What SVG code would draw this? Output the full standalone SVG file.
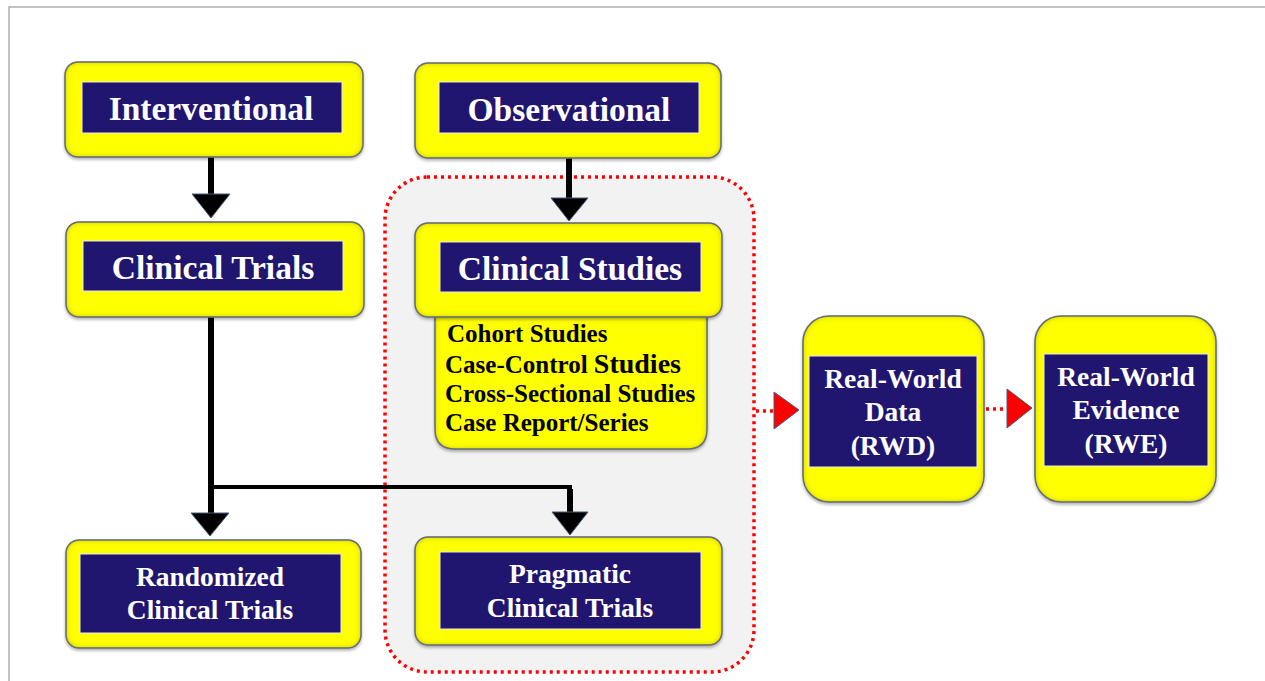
<svg xmlns="http://www.w3.org/2000/svg" width="1265" height="681" viewBox="0 0 1265 681">
<style>
.outer{fill:#ffff00;stroke:#5e6f8c;stroke-width:1.5}
.inner{fill:#21166f;stroke:#e8e8f0;stroke-width:1}
.hd{fill:#ffffff;text-anchor:middle}
.lst{fill:#000000}
.blk{stroke:#000;fill:none}
.tri{fill:#000;stroke:#4a5a78;stroke-width:1}
.rtri{fill:#ff0000;stroke:#4a5a78;stroke-width:1}
.rdot{stroke:#ff0000;stroke-width:3.5;stroke-dasharray:3 4;fill:none}
</style>
<defs>
<filter id="sh" x="-10%" y="-10%" width="120%" height="130%">
<feGaussianBlur in="SourceAlpha" stdDeviation="1.5" result="blur"/>
<feOffset in="blur" dy="2" result="off"/>
<feFlood flood-color="#000" flood-opacity="0.3"/>
<feComposite in2="off" operator="in" result="drop"/>
<feGaussianBlur in="SourceAlpha" stdDeviation="3" result="b2"/>
<feComposite in="SourceAlpha" in2="b2" operator="arithmetic" k2="1" k3="-1" result="edge"/>
<feFlood flood-color="#7a6a00" flood-opacity="0.8"/>
<feComposite in2="edge" operator="in" result="bevel"/>
<feMerge><feMergeNode in="drop"/><feMergeNode in="SourceGraphic"/><feMergeNode in="bevel"/></feMerge>
</filter>
</defs>
<rect x="0" y="0" width="1265" height="681" fill="#ffffff"/>
<rect x="9" y="7" width="1300" height="700" fill="none" stroke="#9a9a9a" stroke-width="1.2"/>
<g id="region">
<rect x="385" y="177" width="369" height="495" rx="42" fill="#f2f2f2" stroke="#ff0000" stroke-width="3.5" stroke-dasharray="3 4"/>
</g>
<g id="connectors">
<line class="blk" x1="211" y1="157" x2="211" y2="194" stroke-width="6"/>
<polygon class="tri" points="192,194 230,194 211,218"/>
<line class="blk" x1="569" y1="158" x2="569" y2="198" stroke-width="6"/>
<polygon class="tri" points="551,198 588,198 569,221"/>
<line class="blk" x1="211" y1="317" x2="211" y2="514" stroke-width="6"/>
<polyline class="blk" points="211,487 570,487 570,512" stroke-width="4"/>
<line class="blk" x1="570" y1="489" x2="570" y2="513" stroke-width="6"/>
<polygon class="tri" points="191,513 229,513 210,536"/>
<polygon class="tri" points="552,512 588,512 570,535"/>
<line class="rdot" x1="756" y1="411" x2="774" y2="411"/>
<polygon class="rtri" points="774,392 799,410 774,429"/>
<line class="rdot" x1="986" y1="409" x2="1007" y2="409"/>
<polygon class="rtri" points="1007,389 1032,408 1007,428"/>
</g>
<g id="interventional">
<rect class="outer" x="65" y="62" width="298" height="95" rx="13" filter="url(#sh)"/>
<rect class="inner" x="82" y="82" width="260" height="51"/>
<text class="hd" x="211" y="120" font-size="33.5" font-family="Liberation Serif" font-weight="bold">Interventional</text>
</g>
<g id="observational">
<rect class="outer" x="415" y="63" width="306" height="95" rx="13" filter="url(#sh)"/>
<rect class="inner" x="439" y="82" width="260" height="51"/>
<text class="hd" x="569" y="121" font-size="33.5" font-family="Liberation Serif" font-weight="bold">Observational</text>
</g>
<g id="clinical-trials">
<rect class="outer" x="66" y="222" width="298" height="95" rx="13" filter="url(#sh)"/>
<rect class="inner" x="83" y="241" width="260" height="50"/>
<text class="hd" x="213" y="279" font-size="33.5" font-family="Liberation Serif" font-weight="bold">Clinical Trials</text>
</g>
<g id="study-types">
<path class="outer" d="M435,305 H707 V429 Q707,449 687,449 H455 Q435,449 435,429 Z" filter="url(#sh)"/>
<text class="lst" x="447" y="342" font-size="25" font-family="Liberation Serif" font-weight="bold">Cohort Studies</text>
<text class="lst" x="445" y="373" font-size="25" font-family="Liberation Serif" font-weight="bold">Case-Control <tspan font-size="28">Studies</tspan></text>
<text class="lst" x="445" y="402" font-size="25" font-family="Liberation Serif" font-weight="bold">Cross-Sectional Studies</text>
<text class="lst" x="445" y="431" font-size="25" font-family="Liberation Serif" font-weight="bold">Case Report/Series</text>
</g>
<g id="clinical-studies">
<rect class="outer" x="415" y="223" width="307" height="94" rx="13" filter="url(#sh)"/>
<rect class="inner" x="440" y="242" width="261" height="50"/>
<text class="hd" x="570" y="280" font-size="33.5" font-family="Liberation Serif" font-weight="bold">Clinical Studies</text>
</g>
<g id="rct">
<rect class="outer" x="66" y="540" width="295" height="108" rx="13" filter="url(#sh)"/>
<rect class="inner" x="80" y="554" width="261" height="79"/>
<text class="hd" x="210" y="586" font-size="27.5" font-family="Liberation Serif" font-weight="bold">Randomized</text>
<text class="hd" x="210" y="619" font-size="27.5" font-family="Liberation Serif" font-weight="bold">Clinical Trials</text>
</g>
<g id="pragmatic">
<rect class="outer" x="415" y="537" width="307" height="108" rx="13" filter="url(#sh)"/>
<rect class="inner" x="440" y="552" width="261" height="77"/>
<text class="hd" x="570" y="583" font-size="27.5" font-family="Liberation Serif" font-weight="bold">Pragmatic</text>
<text class="hd" x="570" y="617" font-size="27.5" font-family="Liberation Serif" font-weight="bold">Clinical Trials</text>
</g>
<g id="rwd">
<rect class="outer" x="803" y="316" width="181" height="186" rx="26" filter="url(#sh)"/>
<rect class="inner" x="809" y="356" width="168" height="111"/>
<text class="hd" x="893" y="388" font-size="27.5" font-family="Liberation Serif" font-weight="bold">Real-World</text>
<text class="hd" x="893" y="421" font-size="27.5" font-family="Liberation Serif" font-weight="bold">Data</text>
<text class="hd" x="893" y="455" font-size="27.5" font-family="Liberation Serif" font-weight="bold">(RWD)</text>
</g>
<g id="rwe">
<rect class="outer" x="1035" y="316" width="181" height="186" rx="26" filter="url(#sh)"/>
<rect class="inner" x="1044" y="354" width="164" height="112"/>
<text class="hd" x="1126" y="386" font-size="27.5" font-family="Liberation Serif" font-weight="bold">Real-World</text>
<text class="hd" x="1126" y="419" font-size="27.5" font-family="Liberation Serif" font-weight="bold">Evidence</text>
<text class="hd" x="1126" y="453" font-size="27.5" font-family="Liberation Serif" font-weight="bold">(RWE)</text>
</g>
</svg>
